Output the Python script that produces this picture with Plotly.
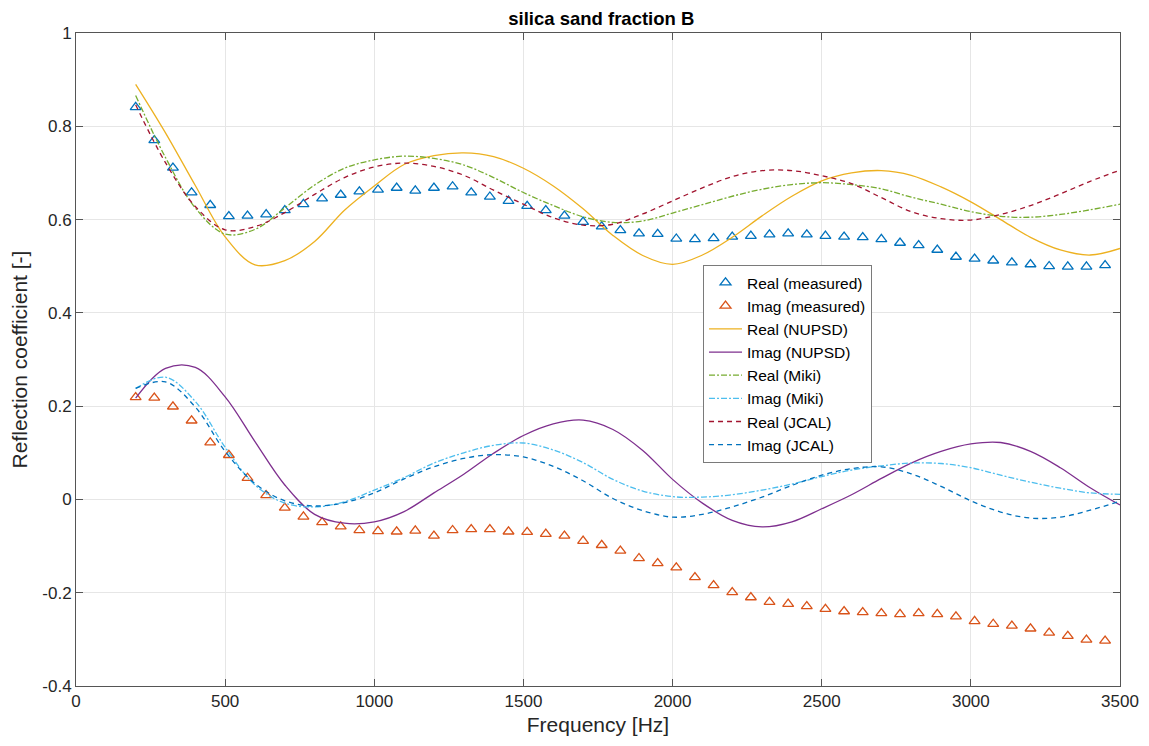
import plotly.graph_objects as go

# Measured data (frequency in Hz)
freq_meas = [200, 262.5, 325, 387.5, 450, 512.5, 575, 637.5, 700, 762.5, 825, 887.5,
             950, 1012.5, 1075, 1137.5, 1200, 1262.5, 1325, 1387.5, 1450, 1512.5, 1575,
             1637.5, 1700, 1762.5, 1825, 1887.5, 1950, 2012.5, 2075, 2137.5, 2200, 2262.5,
             2325, 2387.5, 2450, 2512.5, 2575, 2637.5, 2700, 2762.5, 2825, 2887.5, 2950,
             3012.5, 3075, 3137.5, 3200, 3262.5, 3325, 3387.5, 3450]

real_meas = [0.841, 0.770, 0.711, 0.658, 0.631, 0.607, 0.608, 0.611, 0.620, 0.633, 0.645,
             0.653, 0.660, 0.664, 0.668, 0.662, 0.668, 0.671, 0.658, 0.649, 0.640, 0.629,
             0.620, 0.608, 0.595, 0.585, 0.577, 0.570, 0.569, 0.559, 0.558, 0.560, 0.563,
             0.565, 0.568, 0.570, 0.568, 0.565, 0.563, 0.562, 0.558, 0.550, 0.545, 0.535,
             0.520, 0.516, 0.512, 0.508, 0.504, 0.500, 0.499, 0.499, 0.502]

imag_meas = [0.219, 0.218, 0.199, 0.169, 0.122, 0.095, 0.046, 0.009, -0.018, -0.037, -0.049,
             -0.058, -0.066, -0.068, -0.069, -0.067, -0.078, -0.066, -0.064, -0.064, -0.069,
             -0.070, -0.074, -0.078, -0.089, -0.098, -0.110, -0.126, -0.137, -0.146, -0.167,
             -0.184, -0.199, -0.210, -0.220, -0.224, -0.229, -0.235, -0.240, -0.242, -0.244,
             -0.246, -0.244, -0.246, -0.251, -0.261, -0.267, -0.271, -0.277, -0.286, -0.293,
             -0.301, -0.303]

# Model curves
freq_model = [200, 300, 400, 500, 600, 700, 800, 900, 1000, 1100, 1200, 1300, 1400, 1500,
              1600, 1700, 1800, 1900, 2000, 2100, 2200, 2300, 2400, 2500, 2600, 2700, 2800,
              2900, 3000, 3100, 3200, 3300, 3400, 3500]

real_nupsd = [0.890, 0.786, 0.673, 0.563, 0.503, 0.512, 0.553, 0.620, 0.672, 0.718, 0.737,
              0.743, 0.735, 0.710, 0.672, 0.623, 0.566, 0.523, 0.504, 0.524, 0.562, 0.608,
              0.650, 0.683, 0.700, 0.705, 0.695, 0.670, 0.638, 0.600, 0.562, 0.535, 0.524,
              0.538]

imag_nupsd = [0.217, 0.281, 0.283, 0.220, 0.124, 0.031, -0.032, -0.051, -0.048, -0.026,
              0.014, 0.054, 0.099, 0.137, 0.162, 0.170, 0.150, 0.105, 0.043, -0.008, -0.045,
              -0.059, -0.048, -0.020, 0.010, 0.045, 0.078, 0.103, 0.119, 0.122, 0.103, 0.068,
              0.025, -0.012]

real_miki = [0.866, 0.733, 0.625, 0.569, 0.579, 0.625, 0.674, 0.710, 0.728, 0.736, 0.731,
             0.717, 0.690, 0.658, 0.630, 0.606, 0.594, 0.597, 0.614, 0.632, 0.650, 0.665,
             0.675, 0.679, 0.675, 0.666, 0.648, 0.633, 0.617, 0.607, 0.605, 0.611, 0.621,
             0.633]

imag_miki = [0.238, 0.262, 0.210, 0.112, 0.031, -0.008, -0.016, -0.005, 0.020, 0.047, 0.078,
             0.100, 0.116, 0.121, 0.106, 0.079, 0.043, 0.018, 0.006, 0.005, 0.010, 0.020,
             0.033, 0.049, 0.063, 0.072, 0.078, 0.077, 0.068, 0.052, 0.037, 0.024, 0.014,
             0.011]

real_jcal = [0.846, 0.722, 0.628, 0.578, 0.585, 0.615, 0.654, 0.690, 0.713, 0.721, 0.714,
             0.695, 0.663, 0.633, 0.604, 0.588, 0.590, 0.612, 0.640, 0.668, 0.692, 0.705,
             0.705, 0.694, 0.677, 0.647, 0.617, 0.602, 0.599, 0.611, 0.630, 0.655, 0.682,
             0.706]

imag_jcal = [0.238, 0.252, 0.198, 0.103, 0.034, -0.003, -0.014, -0.007, 0.014, 0.044, 0.070,
             0.088, 0.096, 0.091, 0.071, 0.040, 0.002, -0.024, -0.038, -0.032, -0.016, 0.005,
             0.030, 0.052, 0.066, 0.070, 0.055, 0.028, -0.003, -0.027, -0.040, -0.038,
             -0.023, -0.004]

x_ticks = [0, 500, 1000, 1500, 2000, 2500, 3000, 3500]
y_ticks = [-0.4, -0.2, 0, 0.2, 0.4, 0.6, 0.8, 1]
y_ticktext = ["-0.4", "-0.2", "0", "0.2", "0.4", "0.6", "0.8", "1"]

BLUE = "#0072BD"
ORANGE = "#D95319"
YELLOW = "#EDB120"
PURPLE = "#7E2F8E"
GREEN = "#77AC30"
CYAN = "#4DBEEE"
DRED = "#A2142F"

FONT = "Liberation Sans, Arial, Helvetica, sans-serif"

fig = go.Figure()
marker_common = dict(symbol="triangle-up-open", size=9.5, line=dict(width=1.3))
fig.add_trace(go.Scatter(x=freq_meas, y=real_meas, mode="markers", name="Real (measured)",
                         marker=dict(color=BLUE, **marker_common)))
fig.add_trace(go.Scatter(x=freq_meas, y=imag_meas, mode="markers", name="Imag (measured)",
                         marker=dict(color=ORANGE, **marker_common)))

def add_line(y, name, color, dash):
    fig.add_trace(go.Scatter(x=freq_model, y=y, mode="lines", name=name,
                             line=dict(color=color, width=1.3, dash=dash, shape="spline",
                                       smoothing=1.0)))

add_line(real_nupsd, "Real (NUPSD)", YELLOW, "solid")
add_line(imag_nupsd, "Imag (NUPSD)", PURPLE, "solid")
add_line(real_miki, "Real (Miki)", GREEN, "6px,2px,2px,2px")
add_line(imag_miki, "Imag (Miki)", CYAN, "6px,2px,2px,2px")
add_line(real_jcal, "Real (JCAL)", DRED, "5px,4px")
add_line(imag_jcal, "Imag (JCAL)", BLUE, "5px,4px")

axis_common = dict(showline=True, linecolor="#555555", linewidth=1, mirror="all",
                   ticks="inside", ticklen=7, tickcolor="#555555", automargin=False,
                   showgrid=True, gridcolor="#e6e6e6", gridwidth=1, zeroline=False,
                   tickfont=dict(family=FONT, size=17, color="#262626"))

# The page body adds an 8px offset, so the figure is sized/margined to compensate.
fig.update_layout(
    width=1141, height=738,
    paper_bgcolor="white", plot_bgcolor="white",
    margin=dict(l=68, r=29, t=25, b=60, autoexpand=False),
    title=dict(text="<b>silica sand fraction B</b>", x=0.52, xanchor="center",
               y=0.986, yanchor="middle",
               font=dict(family=FONT, size=18.5, color="#000000")),
    xaxis=dict(range=[0, 3500], tickvals=x_ticks,
               title=dict(text="Frequency [Hz]", standoff=6,
                          font=dict(family=FONT, size=21, color="#262626")),
               **axis_common),
    yaxis=dict(range=[-0.4, 1], tickvals=y_ticks, ticktext=y_ticktext,
               title=dict(text="Reflection coefficient [-]", standoff=8,
                          font=dict(family=FONT, size=21, color="#262626")),
               **axis_common),
    legend=dict(x=0.6006, y=0.6447, xanchor="left", yanchor="top",
                bgcolor="white", bordercolor="#7a7a7a", borderwidth=1,
                font=dict(family=FONT, size=15.5, color="#000000"),
                tracegroupgap=0, itemwidth=33),
    showlegend=True,
)

fig.write_html("out.html")
